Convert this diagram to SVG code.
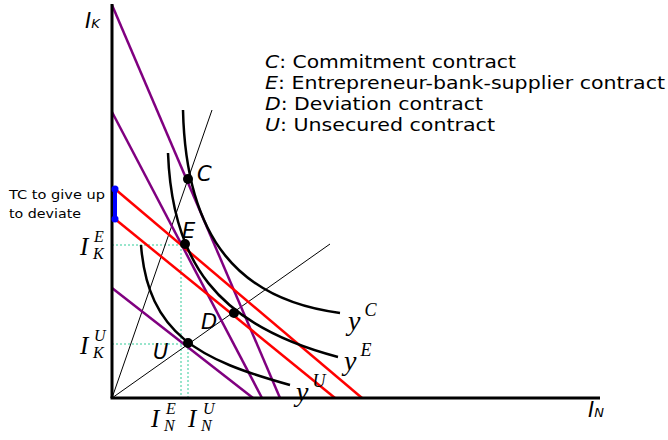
<svg xmlns="http://www.w3.org/2000/svg" width="668" height="440" viewBox="0 0 668 440">
<defs>
<style>
.ax{stroke:#000;stroke-width:3;fill:none}
.pu{stroke:#800080;stroke-width:2.5;fill:none}
.rd{stroke:#ff0000;stroke-width:2.5;fill:none}
.ray{stroke:#000;stroke-width:1;fill:none}
.ic{stroke:#000;stroke-width:2.5;fill:none}
.dash{stroke:#33cc99;stroke-width:1;stroke-dasharray:2,2;fill:none}
.dot{fill:#000}
.sans{font-family:"DejaVu Sans",Verdana,sans-serif;fill:#000}
.ser{font-family:"Liberation Serif","Times New Roman",serif;font-style:italic;fill:#000}
</style>
</defs>
<rect width="668" height="440" fill="#fff"/>
<g id="connectors">
<line class="dash" x1="112" y1="245" x2="185" y2="245"/>
<line class="dash" x1="181" y1="245" x2="181" y2="398"/>
<line class="dash" x1="112" y1="344" x2="188" y2="344"/>
<line class="dash" x1="188" y1="344" x2="188" y2="398"/>
<line class="ray" x1="112" y1="398" x2="212" y2="110"/>
<line class="ray" x1="112" y1="398" x2="330" y2="244"/>
<line class="pu" x1="112" y1="5" x2="280" y2="398"/>
<line class="pu" x1="112" y1="112" x2="262" y2="398"/>
<line class="pu" x1="112" y1="288" x2="253" y2="398"/>
<line class="rd" x1="115" y1="189" x2="362" y2="398"/>
<line class="rd" x1="115" y1="219" x2="335" y2="398"/>
<path class="ic" d="M183,110 C186,240 240,300 340,313"/>
<path class="ic" d="M168,153 C172,260 215,325 338,357"/>
<path class="ic" d="M141,245 C148,335 200,360 290,385"/>
<line class="ax" x1="112" y1="4" x2="112" y2="398"/>
<line class="ax" x1="110.5" y1="398" x2="600" y2="398"/>
<line x1="115" y1="189" x2="115" y2="219" stroke="#0000ff" stroke-width="4" stroke-linecap="round"/>
<circle cx="115" cy="189" r="3.5" fill="#0000ff"/>
<circle cx="115" cy="219" r="3.5" fill="#0000ff"/>
</g>
<g id="axis-labels">
<text class="sans" x="85" y="28" font-size="21" font-style="italic">I<tspan font-size="13">K</tspan></text>
<text class="sans" x="588" y="417" font-size="21" font-style="italic">I<tspan font-size="13">N</tspan></text>
</g>
<g id="node-C">
<circle class="dot" cx="188" cy="179" r="5"/>
<text class="sans" x="197" y="181" font-size="21" font-style="italic">C</text>
</g>
<g id="node-E">
<circle class="dot" cx="185" cy="244" r="5"/>
<text class="sans" x="182" y="238" font-size="21" font-style="italic">E</text>
</g>
<g id="node-D">
<circle class="dot" cx="234" cy="313" r="5"/>
<text class="sans" x="201" y="329" font-size="21" font-style="italic">D</text>
</g>
<g id="node-U">
<circle class="dot" cx="188" cy="343" r="5"/>
<text class="sans" x="153" y="359" font-size="21" font-style="italic">U</text>
</g>
<g id="curve-labels">
<text class="ser" x="348" y="330" font-size="28">y<tspan font-size="18" dx="4" dy="-14">C</tspan></text>
<text class="ser" x="344" y="370" font-size="28">y<tspan font-size="18" dx="4" dy="-14">E</tspan></text>
<text class="ser" x="296" y="401" font-size="28">y<tspan font-size="18" dx="4" dy="-14">U</tspan></text>
</g>
<g id="level-labels">
<text class="ser" x="80" y="255" font-size="25">I</text>
<text class="ser" x="94" y="242" font-size="16">E</text>
<text class="ser" x="93" y="259" font-size="16">K</text>
<text class="ser" x="80" y="354" font-size="25">I</text>
<text class="ser" x="94" y="341" font-size="16">U</text>
<text class="ser" x="93" y="358" font-size="16">K</text>
<text class="ser" x="151" y="427" font-size="25">I</text>
<text class="ser" x="166" y="414" font-size="16">E</text>
<text class="ser" x="164" y="431" font-size="16">N</text>
<text class="ser" x="188" y="427" font-size="25">I</text>
<text class="ser" x="203" y="414" font-size="16">U</text>
<text class="ser" x="201" y="431" font-size="16">N</text>
</g>
<g id="tc-label">
<text class="sans" x="9" y="199" font-size="13" textLength="96" lengthAdjust="spacingAndGlyphs">TC to give up</text>
<text class="sans" x="9" y="218" font-size="13" textLength="72" lengthAdjust="spacingAndGlyphs">to deviate</text>
</g>
<g id="legend">
<text class="sans" x="265" y="68" font-size="18" textLength="251" lengthAdjust="spacingAndGlyphs"><tspan font-style="italic">C</tspan>: Commitment contract</text>
<text class="sans" x="265" y="89" font-size="18" textLength="400" lengthAdjust="spacingAndGlyphs"><tspan font-style="italic">E</tspan>: Entrepreneur-bank-supplier contract</text>
<text class="sans" x="265" y="110" font-size="18" textLength="218" lengthAdjust="spacingAndGlyphs"><tspan font-style="italic">D</tspan>: Deviation contract</text>
<text class="sans" x="265" y="131" font-size="18" textLength="230" lengthAdjust="spacingAndGlyphs"><tspan font-style="italic">U</tspan>: Unsecured contract</text>
</g>
</svg>
